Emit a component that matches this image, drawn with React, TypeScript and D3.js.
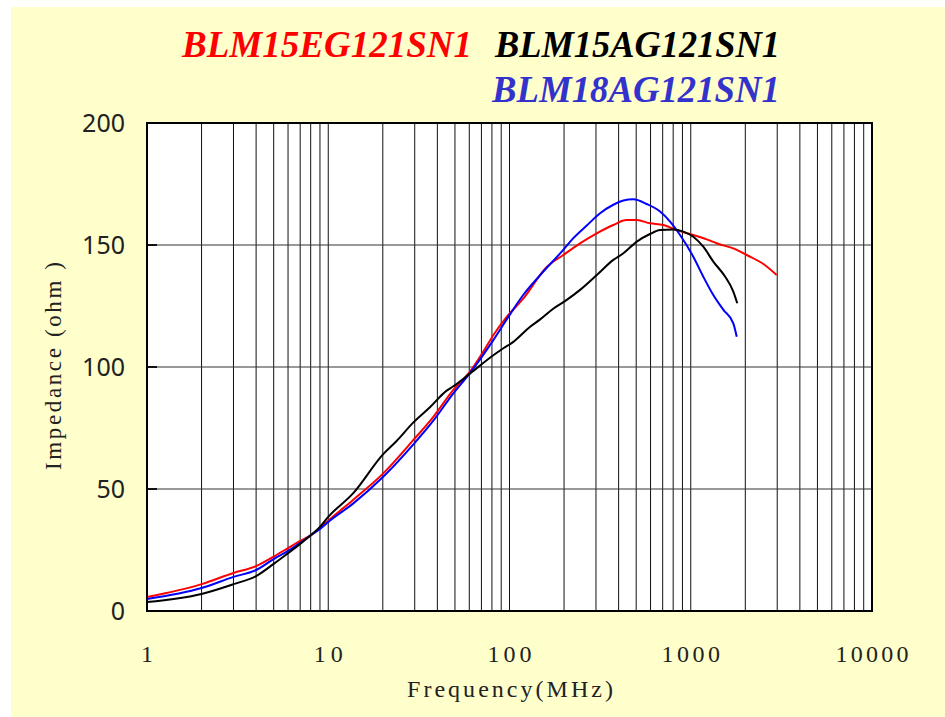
import React from "react";
import * as d3 from "d3";

const redFreq = [1,2,3,4,5,6,7,8,9,10,13.7,20.1,29.5,38,49,60.5,71.7,81.4,96.5,119,160,198,245,303,374,443,504,596,706,836,1033,1224,1390,1794,2036,2514,2980];
const redZ = [5.7,11,15.6,18.4,22.3,25.8,28.7,31,33.9,37,45.5,56.4,70.1,79.6,90.6,98.1,106.3,113,120.5,128,140.9,145.9,150.7,154.8,158.2,160.2,160.2,158.9,158.2,156.1,154.1,152.3,150.7,148,145.9,142.2,137.7];

const blueFreq = [1,2,3,4,5,6,7,8,9,10,13.7,20.1,29.5,38,49,60.5,81.4,96.5,119,147,198,225,267,316,374,425,482,571,677,769,873,1033,1173,1332,1514,1717,1794];
const blueZ = [4.9,9.4,14,16.8,21.3,24.6,27.9,31,33.6,36.5,44,55,68.3,78,89.2,97.5,111,119.5,129.5,137.5,148,152.8,158,163,166.5,168.2,168.7,166.8,163.7,159.6,154.1,145.2,137,129.5,123.4,117.9,112.4];

const blackFreq = [1,2,3,4,5,6,7,8,9,10,13.7,20.1,23.9,29.5,36.4,45,49,60.5,81.4,92.5,105,130,147,175,207,245,303,374,425,504,596,677,802,910,1033,1173,1332,1549,1717,1806];
const blackZ = [3.7,7,11,14.3,19.3,23.7,27.5,31,34.5,38.6,48.2,64.3,69.8,77.3,83.5,90.3,92.1,97.3,104.8,107.7,110.3,116.5,119.4,124,127.5,131.6,137.7,143.9,146.6,151.4,154.5,156.1,156.4,155.5,153.4,149.3,143.2,137,130.9,126.1];

const xTickLabels = ["1","10","100","1000","10000"];
const yTicks = [0,50,100,150,200];
const titles = ["BLM15EG121SN1","BLM15AG121SN1","BLM18AG121SN1"];

export default function App() {
  const x = d3.scaleLog().domain([1, 10000]).range([147, 872]);
  const y = d3.scaleLinear().domain([0, 200]).range([611, 123]);

  const minor: number[] = [];
  for (let k = 0; k < 4; k++) {
    for (let m = 2; m <= 10; m++) {
      const v = m * Math.pow(10, k);
      if (v < 10000) minor.push(v);
    }
  }

  const line = d3.line<[number, number]>().x(d => x(d[0])).y(d => y(d[1])).curve(d3.curveMonotoneX);
  const series = [
    { f: redFreq, z: redZ, color: "#ff0000" },
    { f: blueFreq, z: blueZ, color: "#0000ff" },
    { f: blackFreq, z: blackZ, color: "#000000" },
  ];
  const [x0, x1] = x.range();
  const [y0, y1] = y.range();
  const serifMono = "'Liberation Serif', 'DejaVu Serif', serif";

  return (
    <svg width={945} height={717} style={{ position: "absolute", left: 0, top: 0 }}>
      <rect x={0} y={0} width={945} height={717} fill="#ffffff" />
      <rect x={11} y={7} width={934} height={710} fill="#ffffcc" />
      <rect x={x0} y={y1} width={x1 - x0} height={y0 - y1} fill="#ffffff" />
      {minor.map((v, i) => (
        <line key={"v" + i} x1={x(v)} x2={x(v)} y1={y1} y2={y0} stroke="#111" strokeWidth={1} />
      ))}
      {yTicks.slice(1, -1).map((v, i) => (
        <line key={"h" + i} x1={x0} x2={x1} y1={y(v)} y2={y(v)} stroke="#333" strokeWidth={1} />
      ))}
      {yTicks.map((v, i) => (
        <line key={"t" + i} x1={x0} x2={x0 + 10} y1={y(v)} y2={y(v)} stroke="#111" strokeWidth={2} />
      ))}
      {series.map((s, i) => (
        <path key={"s" + i} d={line(s.f.map((f, j) => [f, s.z[j]] as [number, number])) || ""}
          fill="none" stroke={s.color} strokeWidth={2} strokeLinejoin="round" />
      ))}
      <rect x={x0} y={y1} width={x1 - x0} height={y0 - y1} fill="none" stroke="#000" strokeWidth={2} />
      {yTicks.map((v, i) => (
        <text key={"yl" + i} x={125} y={y(v)} dy="0.36em" textAnchor="end"
          fontFamily="'Noto Sans', sans-serif" fontSize={25} fill="#222">{v}</text>
      ))}
      {xTickLabels.map((t, i) => (
        <text key={"xl" + i} x={x(+t)} y={662} textAnchor="middle"
          fontFamily={serifMono} fontSize={24} fill="#222"
          textLength={t.length * 14.6} lengthAdjust="spacing">{t}</text>
      ))}
      <text x={510} y={697} textAnchor="middle" fontFamily={serifMono} fontSize={24} fill="#222"
        textLength={206} lengthAdjust="spacing">Frequency(MHz)</text>
      <text transform="translate(61,366) rotate(-90)" textAnchor="middle" fontFamily={serifMono} fontSize={23} fill="#222"
        textLength={208} lengthAdjust="spacing">Impedance (ohm )</text>
      <text x={182} y={57} fontFamily="'Liberation Serif', serif" fontWeight="bold" fontStyle="italic" fontSize={37}
        fill="#ff0000" textLength={290} lengthAdjust="spacingAndGlyphs">{titles[0]}</text>
      <text x={495} y={57} fontFamily="'Liberation Serif', serif" fontWeight="bold" fontStyle="italic" fontSize={37}
        fill="#000000" textLength={285} lengthAdjust="spacingAndGlyphs">{titles[1]}</text>
      <text x={492} y={102} fontFamily="'Liberation Serif', serif" fontWeight="bold" fontStyle="italic" fontSize={37}
        fill="#3333cc" textLength={288} lengthAdjust="spacingAndGlyphs">{titles[2]}</text>
    </svg>
  );
}
